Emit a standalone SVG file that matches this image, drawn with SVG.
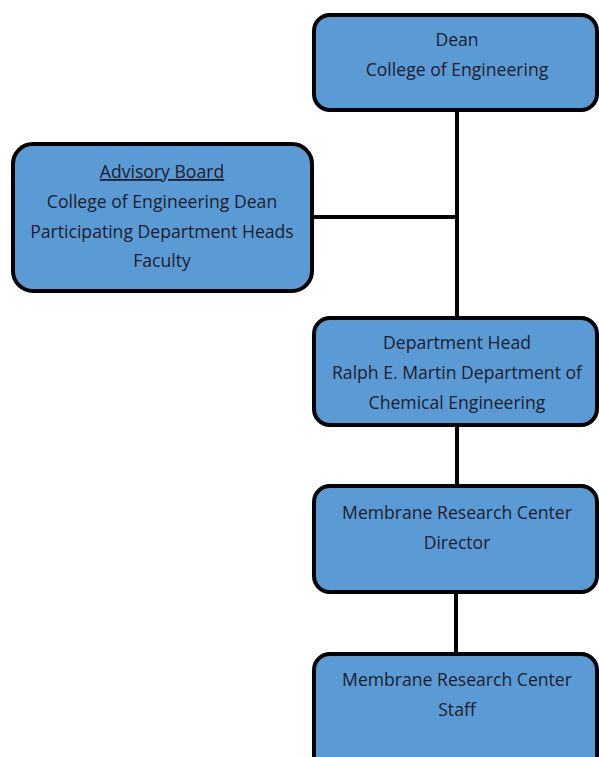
<svg xmlns="http://www.w3.org/2000/svg" width="599" height="757" viewBox="0 0 599 757">
<style>
.box{fill:#5b9bd5;stroke:#000;stroke-width:4}
.t{font-family:"Open Sans","Liberation Sans",sans-serif;font-size:17.6px;fill:#1b1b2b;text-anchor:middle}
.c{stroke:#000;stroke-width:4;fill:none}
</style>
<rect width="599" height="757" fill="#fff"/>
<g id="connectors">
<line class="c" x1="457" y1="110" x2="457" y2="318"/>
<line class="c" x1="311" y1="217" x2="457" y2="217"/>
<line class="c" x1="457" y1="425" x2="457" y2="486"/>
<line class="c" x1="456" y1="592" x2="456" y2="654"/>
</g>
<g id="dean">
<rect class="box" x="314" y="15" width="283" height="95" rx="16"/>
<text class="t" x="457" y="46">Dean</text>
<text class="t" x="457" y="76">College of Engineering</text>
</g>
<g id="advisory">
<rect class="box" x="13" y="144" width="299" height="147" rx="20"/>
<text class="t" x="162" y="178" text-decoration="underline">Advisory Board</text>
<text class="t" x="162" y="208">College of Engineering Dean</text>
<text class="t" x="162" y="238">Participating Department Heads</text>
<text class="t" x="162" y="267">Faculty</text>
</g>
<g id="depthead">
<rect class="box" x="314" y="318" width="283" height="107" rx="16"/>
<text class="t" x="457" y="349">Department Head</text>
<text class="t" x="457" y="379">Ralph E. Martin Department of</text>
<text class="t" x="457" y="409">Chemical Engineering</text>
</g>
<g id="director">
<rect class="box" x="314" y="486" width="283" height="106" rx="16"/>
<text class="t" x="457" y="519">Membrane Research Center</text>
<text class="t" x="457" y="549">Director</text>
</g>
<g id="staff">
<rect class="box" x="314" y="654" width="283" height="120" rx="16"/>
<text class="t" x="457" y="686">Membrane Research Center</text>
<text class="t" x="457" y="716">Staff</text>
</g>
</svg>
